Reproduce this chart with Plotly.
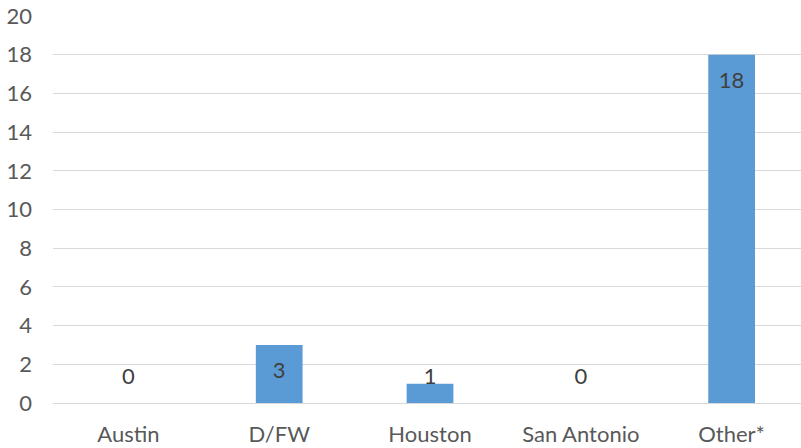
import plotly.graph_objects as go

categories = ["Austin", "D/FW", "Houston", "San Antonio", "Other*"]
values = [0, 3, 1, 0, 18]
y_ticks = [0, 2, 4, 6, 8, 10, 12, 14, 16, 18, 20]

label_y = [max(v - 1.43, 1.29) for v in values]
font_color = "#595959"
font_family = "Lato, 'Open Sans', sans-serif"

fig = go.Figure()
fig.add_trace(go.Bar(
    x=categories, y=values, width=0.31,
    marker=dict(color="#5B9BD5", line=dict(width=0)),
    hoverinfo="skip",
))
fig.add_trace(go.Scatter(
    x=categories, y=label_y, mode="text",
    text=[str(v) for v in values],
    textfont=dict(size=22, color="#404040", family=font_family),
    hoverinfo="skip",
))
fig.update_layout(
    width=801, height=448,
    margin=dict(l=53, r=0, t=16, b=45, autoexpand=False),
    paper_bgcolor="white", plot_bgcolor="white",
    showlegend=False,
    font=dict(family=font_family, size=22, color=font_color),
    xaxis=dict(range=[-0.5, 4.46], showgrid=False, showline=False,
               ticks="", ticklabelstandoff=16, automargin=False,
               tickfont=dict(size=22, color=font_color)),
    yaxis=dict(range=[0, 20], tickvals=y_ticks, showgrid=True,
               gridcolor="#D9D9D9", gridwidth=1, zeroline=True,
               zerolinecolor="#D9D9D9", zerolinewidth=1,
               showline=False, ticks="", ticklabelstandoff=20,
               automargin=False,
               tickfont=dict(size=22, color=font_color)),
)
fig.write_html(
    "out.html",
    config={"displayModeBar": False},
    post_script="document.body.style.margin='0';document.body.style.overflow='hidden';",
)
